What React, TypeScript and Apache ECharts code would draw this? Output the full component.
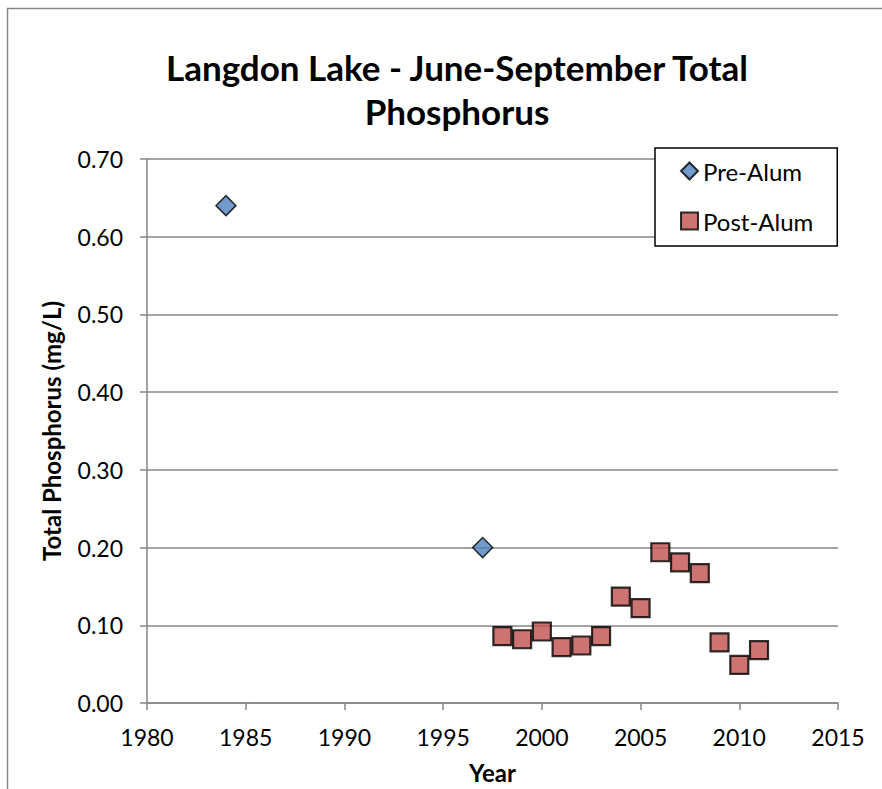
import React, { useEffect, useRef } from "react";
import * as echarts from "echarts";

const preYears = [1984, 1997];
const preValues = [0.64, 0.2];
const postYears = [1998, 1999, 2000, 2001, 2002, 2003, 2004, 2005, 2006, 2007, 2008, 2009, 2010, 2011];
const postValues = [0.086, 0.082, 0.092, 0.072, 0.074, 0.086, 0.137, 0.122, 0.194, 0.181, 0.167, 0.078, 0.049, 0.068];
const seriesNames = ["Pre-Alum", "Post-Alum"];
const titleText = "Langdon Lake - June-September Total\nPhosphorus";
const xAxisName = "Year";
const yAxisName = "Total Phosphorus (mg/L)";

const FONT = "Lato, 'Open Sans', sans-serif";
const GRAY = "#868686";

export default function App() {
  const ref = useRef<HTMLDivElement>(null);
  useEffect(() => {
    if (!ref.current) return;
    const chart = echarts.init(ref.current, null, { renderer: "svg" });
    const pre = preYears.map((y, i) => [y, preValues[i]]);
    const post = postYears.map((y, i) => [y, postValues[i]]);
    chart.setOption({
      animation: false,
      backgroundColor: "#fff",
      textStyle: { fontFamily: FONT },
      title: {
        text: titleText,
        left: 452,
        textAlign: "center",
        top: 40,
        textStyle: { fontFamily: FONT, fontSize: 35, fontWeight: "bold", color: "#000", lineHeight: 44 },
      },
      graphic: [
        {
          type: "rect",
          shape: { x: 7.5, y: 8.5, width: 1000, height: 1000 },
          style: { fill: "none", stroke: GRAY, lineWidth: 1.5 },
          silent: true,
        },
      ],
      legend: {
        orient: "vertical",
        left: 655,
        top: 148,
        itemWidth: 17,
        itemHeight: 17,
        itemGap: 26,
        padding: [11, 24, 13, 25],
        borderColor: "#000",
        borderWidth: 1.5,
        backgroundColor: "#fff",
        textStyle: { fontFamily: FONT, fontSize: 24, color: "#000" },
        data: seriesNames,
      },
      grid: { left: 147, right: 44, top: 159, bottom: 85, containLabel: false },
      xAxis: {
        type: "value",
        min: 1980,
        max: 2015,
        interval: 5,
        name: xAxisName,
        nameLocation: "middle",
        nameGap: 57,
        nameTextStyle: { fontFamily: FONT, fontSize: 24, fontWeight: "bold", color: "#000" },
        axisLine: { show: true, lineStyle: { color: GRAY, width: 1.5 } },
        axisTick: { show: true, length: 7, lineStyle: { color: GRAY, width: 1.5 } },
        axisLabel: {
          fontFamily: FONT,
          fontSize: 23,
          color: "#000",
          margin: 22,
          formatter: (v: number) => String(v),
        },
        splitLine: { show: false },
      },
      yAxis: {
        type: "value",
        min: 0,
        max: 0.7,
        interval: 0.1,
        name: yAxisName,
        nameLocation: "middle",
        nameGap: 84,
        nameTextStyle: { fontFamily: FONT, fontSize: 24, fontWeight: "bold", color: "#000" },
        axisLine: { show: true, lineStyle: { color: GRAY, width: 1.5 } },
        axisTick: { show: true, length: 7, lineStyle: { color: GRAY, width: 1.5 } },
        axisLabel: {
          fontFamily: FONT,
          fontSize: 23,
          color: "#000",
          margin: 24,
          formatter: (v: number) => v.toFixed(2),
        },
        splitLine: { show: true, lineStyle: { color: GRAY, width: 1.5 } },
      },
      series: [
        {
          name: seriesNames[0],
          type: "scatter",
          symbol: "diamond",
          symbolSize: 20,
          itemStyle: { color: "#4F81BD", borderColor: "#000", borderWidth: 1.5 },
          data: pre,
          z: 3,
        },
        {
          name: seriesNames[1],
          type: "scatter",
          symbol: "rect",
          symbolSize: 18,
          itemStyle: { color: "#C0504D", borderColor: "#000", borderWidth: 2.2 },
          data: post,
          z: 3,
        },
      ],
    });
    return () => chart.dispose();
  }, []);
  return (
    <div
      ref={ref}
      style={{ position: "fixed", left: 0, top: 0, width: 882, height: 789 }}
    />
  );
}
